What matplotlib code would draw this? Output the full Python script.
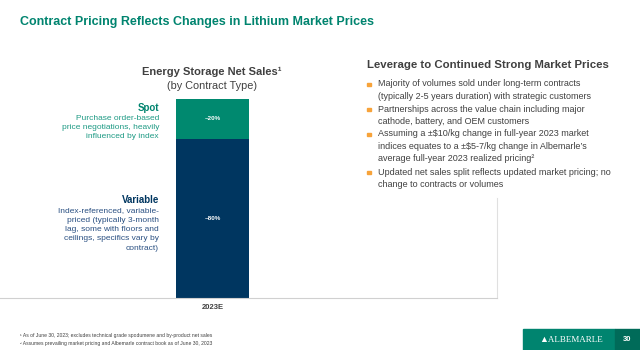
import matplotlib.pyplot as plt
from matplotlib.patches import Rectangle

# data
category = ["2023E"]
variable_share = [80]
spot_share = [20]
share_labels = ["~80%", "~20%"]

bullets = [
    "Majority of volumes sold under long-term contracts\n(typically 2-5 years duration) with strategic customers",
    "Partnerships across the value chain including major\ncathode, battery, and OEM customers",
    "Assuming a \u00b1$10/kg change in full-year 2023 market\nindices equates to a \u00b1$5-7/kg change in Albemarle\u2019s\naverage full-year 2023 realized pricing\u00b2",
    "Updated net sales split reflects updated market pricing; no\nchange to contracts or volumes",
]

GREEN = "#00846F"
TEAL = "#00896F"
NAVY = "#003660"
GRAY = "#404040"
ORANGE = "#F7A33A"

plt.rcParams['font.family'] = ['Liberation Sans', 'DejaVu Sans']

fig = plt.figure(figsize=(6.4, 3.5), dpi=100)
W, H = 640, 350


def fx(px):
    return px / W


def fy(py):
    return 1 - py / H


# bar axes
ax = fig.add_axes([0, fy(298), fx(497), (298 - 99) / H])
ax.bar(category, variable_share, width=0.8, color=NAVY)
ax.bar(category, spot_share, width=0.8, bottom=variable_share, color=TEAL)
ax.text(0, variable_share[0] / 2, share_labels[0], color="white", fontsize=4.5,
        fontweight="bold", ha="center", va="center")
ax.text(0, variable_share[0] + spot_share[0] / 2, share_labels[1], color="white",
        fontsize=4.5, fontweight="bold", ha="center", va="center")
ax.set_xlim(-212.5 / 91.25, (497 - 212.5) / 91.25)
ax.set_ylim(0, 100)
ax.spines['top'].set_visible(False)
ax.spines['left'].set_visible(False)
ax.spines['bottom'].set_color("#d0d0d0")
ax.spines['right'].set_color("#e0e0e0")
ax.spines['right'].set_bounds(0, 50)
ax.set_yticks([])
ax.tick_params(axis='x', length=0, labelsize=5.5, colors=GRAY, pad=4)
for t in ax.get_xticklabels():
    t.set_fontweight("bold")

# title
fig.text(fx(20), fy(22), "Contract Pricing Reflects Changes in Lithium Market Prices",
         fontsize=9, fontweight="bold", color=GREEN, va="center")

fig.text(fx(212), fy(72), "Energy Storage Net Sales\u00b9", fontsize=8,
         fontweight="bold", color=GRAY, ha="center", va="center")
fig.text(fx(212), fy(86), "(by Contract Type)", fontsize=7.8, color=GRAY,
         ha="center", va="center")

# left descriptions
fig.text(fx(159), fy(108), "Spot", fontsize=7, fontweight="bold", color=GREEN,
         ha="right", va="center")
fig.text(fx(159), fy(114.5), "Purchase order-based\nprice negotiations, heavily\ninfluenced by index",
         fontsize=6, color="#1E9A84", ha="right", va="top", linespacing=1.5)
fig.text(fx(159), fy(200), "Variable", fontsize=7, fontweight="bold", color=NAVY,
         ha="right", va="center")
fig.text(fx(159), fy(207),
         "Index-referenced, variable-\npriced (typically 3-month\nlag, some with floors and\nceilings, specifics vary by\ncontract)",
         fontsize=6, color="#2A5082", ha="right", va="top", linespacing=1.5)

# right panel
fig.text(fx(367), fy(65), "Leverage to Continued Strong Market Prices", fontsize=8.2,
         fontweight="bold", color=GRAY, va="center")
bullet_tops = [79.5, 104.5, 129.5, 167.5]
for top, txt in zip(bullet_tops, bullets):
    fig.patches.append(Rectangle((fx(367), fy(top + 6.5)), 3.5 / W, 3.5 / H,
                                 transform=fig.transFigure, color=ORANGE))
    fig.text(fx(378), fy(top), txt, fontsize=6.5, color=GRAY, va="top",
             linespacing=1.45)

# footnotes
fig.text(fx(20), fy(335), "\u00b9 As of June 30, 2023; excludes technical grade spodumene and by-product net sales",
         fontsize=3.6, color=GRAY, va="center")
fig.text(fx(20), fy(343), "\u00b2 Assumes prevailing market pricing and Albemarle contract book as of June 30, 2023",
         fontsize=3.6, color=GRAY, va="center")

# logo box
fig.patches.append(Rectangle((fx(523), 0), (615 - 523) / W, 21 / H,
                             transform=fig.transFigure, color=GREEN))
fig.patches.append(Rectangle((fx(615), 0), 25 / W, 21 / H,
                             transform=fig.transFigure, color="#006B59"))
fig.text(fx(571), fy(339.5), "\u25B2ALBEMARLE", family=['Liberation Serif', 'DejaVu Serif'],
         fontsize=6.5, color="white", ha="center", va="center")
fig.text(fx(627.5), fy(339.5), "30", fontsize=5.5, fontweight="bold", color="white",
         ha="center", va="center")

fig.savefig("out.png", dpi=100)
